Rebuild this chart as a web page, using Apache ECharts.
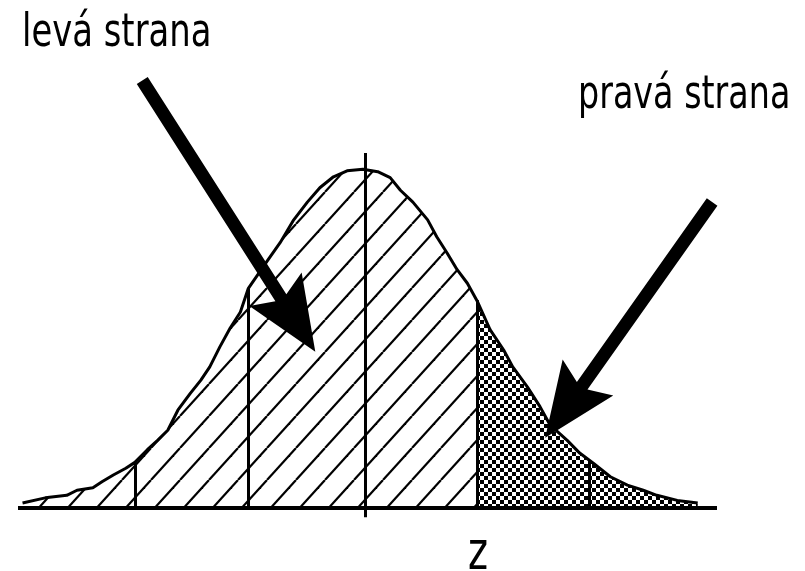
<!DOCTYPE html>
<html>
<head>
<meta charset="utf-8">
<title>levá strana / pravá strana</title>
<script src="https://cdn.jsdelivr.net/npm/echarts@6.0.0/dist/echarts.min.js"></script>
<style>
  html, body { margin: 0; padding: 0; background: #fff; }
  #chart { width: 805px; height: 571px; }
</style>
</head>
<body>
<div id="chart"></div>
<script>
// curve: z and density
const leftZ = [-3.02, -2.82, -2.63, -2.54, -2.40, -2.32, -2.22, -2.11, -2.03, -1.92,
  -1.83, -1.74, -1.65, -1.54, -1.45, -1.37, -1.28, -1.19, -1.10, -1.03,
  -0.86, -0.75, -0.63, -0.51, -0.40, -0.28, -0.16, -0.02, 0.11, 0.22,
  0.31, 0.42, 0.55, 0.63, 0.72, 0.81, 0.90, 0.99]
const leftY = [0.006, 0.012, 0.015, 0.021, 0.024, 0.031, 0.039, 0.047, 0.054, 0.069,
  0.080, 0.092, 0.116, 0.136, 0.151, 0.167, 0.191, 0.213, 0.232, 0.260,
  0.293, 0.314, 0.341, 0.362, 0.379, 0.392, 0.399, 0.401, 0.398, 0.391,
  0.376, 0.362, 0.341, 0.321, 0.302, 0.282, 0.266, 0.244]
const rightZ = [0.99, 1.10, 1.22, 1.30, 1.43, 1.54, 1.63, 1.78, 1.89, 2.01, 2.16, 2.31, 2.45, 2.57, 2.75, 2.93]
const rightY = [0.244, 0.211, 0.187, 0.167, 0.143, 0.120, 0.098, 0.080, 0.065, 0.053, 0.037, 0.027, 0.021, 0.015, 0.009, 0.006]

// dividers under the curve: position and height of the top end
const cutZ = [-2.03, -1.03, 0.99, 1.97]
const cutTop = [0.054, 0.260, 0.246, 0.054]
// centre line: z, bottom, top
const centre = [0, -0.011, 0.42]
const baseline = [-3.06, 3.1]

// arrows: start z, start y, tip z, tip y
const arrows = [
  [-1.965, 0.506, -0.44, 0.185],
  [3.057, 0.362, 1.586, 0.083]
]

const labels = ['levá strana', 'pravá strana', 'z']

function hatchTile() {
  const c = document.createElement('canvas')
  c.width = 29
  c.height = 32
  const ctx = c.getContext('2d')
  ctx.strokeStyle = '#000'
  ctx.lineWidth = 2.2
  for (const dx of [-29, 0, 29]) {
    ctx.beginPath()
    ctx.moveTo(dx + 6, 32)
    ctx.lineTo(dx + 35, 0)
    ctx.stroke()
  }
  return c
}

function checkerTile() {
  const c = document.createElement('canvas')
  c.width = 8
  c.height = 8
  const ctx = c.getContext('2d')
  ctx.fillStyle = '#000'
  ctx.fillRect(0, 0, 4, 4)
  ctx.fillRect(4, 4, 4, 4)
  return c
}

const chart = echarts.init(document.getElementById('chart'))

const lineSegs = cutZ.map((z, i) => [{ coord: [z, 0] }, { coord: [z, cutTop[i]] }])
lineSegs.push([{ coord: [centre[0], centre[1]] }, { coord: [centre[0], centre[2]] }])
lineSegs.push([{ coord: [baseline[0], 0], lineStyle: { width: 4 } }, { coord: [baseline[1], 0] }])

const textFont = '47px "DejaVu Sans"'

chart.setOption({
  animation: false,
  backgroundColor: '#fff',
  grid: { left: 18, right: 88, top: 1, bottom: 20.75 },
  xAxis: { type: 'value', min: -3.06, max: 3.1, show: false },
  yAxis: { type: 'value', min: -0.05, max: 0.6, show: false },
  graphic: [
    { type: 'text', x: 22, y: 34, scaleX: 0.72,
      style: { text: labels[0], font: textFont, fill: '#000', align: 'left', verticalAlign: 'middle' } },
    { type: 'text', x: 578, y: 96, scaleX: 0.71,
      style: { text: labels[1], font: textFont, fill: '#000', align: 'left', verticalAlign: 'middle' } },
    { type: 'text', x: 478, y: 555, scaleX: 0.72,
      style: { text: labels[2], font: '53px "DejaVu Sans"', fill: '#000', align: 'center', verticalAlign: 'middle' } }
  ],
  series: [
    {
      name: 'levá',
      type: 'line',
      silent: true,
      symbol: 'none',
      data: leftZ.map((z, i) => [z, leftY[i]]),
      lineStyle: { color: '#000', width: 3 },
      areaStyle: { color: { image: hatchTile(), repeat: 'repeat' }, opacity: 1 },
      markLine: {
        silent: true,
        symbol: ['none', 'none'],
        label: { show: false },
        lineStyle: { color: '#000', width: 3, type: 'solid' },
        data: lineSegs
      }
    },
    {
      name: 'pravá',
      type: 'line',
      silent: true,
      symbol: 'none',
      data: rightZ.map((z, i) => [z, rightY[i]]),
      lineStyle: { color: '#000', width: 3 },
      areaStyle: { color: { image: checkerTile(), repeat: 'repeat' }, opacity: 1 }
    },
    {
      name: 'arrows',
      type: 'custom',
      silent: true,
      z: 5,
      data: arrows,
      renderItem(params, api) {
        const s = api.coord([api.value(0), api.value(1)])
        const t = api.coord([api.value(2), api.value(3)])
        const dx = t[0] - s[0]
        const dy = t[1] - s[1]
        const len = Math.hypot(dx, dy)
        const ux = dx / len
        const uy = dy / len
        const nx = -uy
        const ny = ux
        const w = 6.5
        const head = 74
        const half = 31
        const neck = 64
        const p = (along, side) => [t[0] - ux * along + nx * side, t[1] - uy * along + ny * side]
        return {
          type: 'polygon',
          shape: {
            points: [
              [s[0] + nx * w, s[1] + ny * w],
              p(neck, w), p(head, half), [t[0], t[1]], p(head, -half), p(neck, -w),
              [s[0] - nx * w, s[1] - ny * w]
            ]
          },
          style: { fill: '#000' }
        }
      }
    }
  ]
})
</script>
</body>
</html>
